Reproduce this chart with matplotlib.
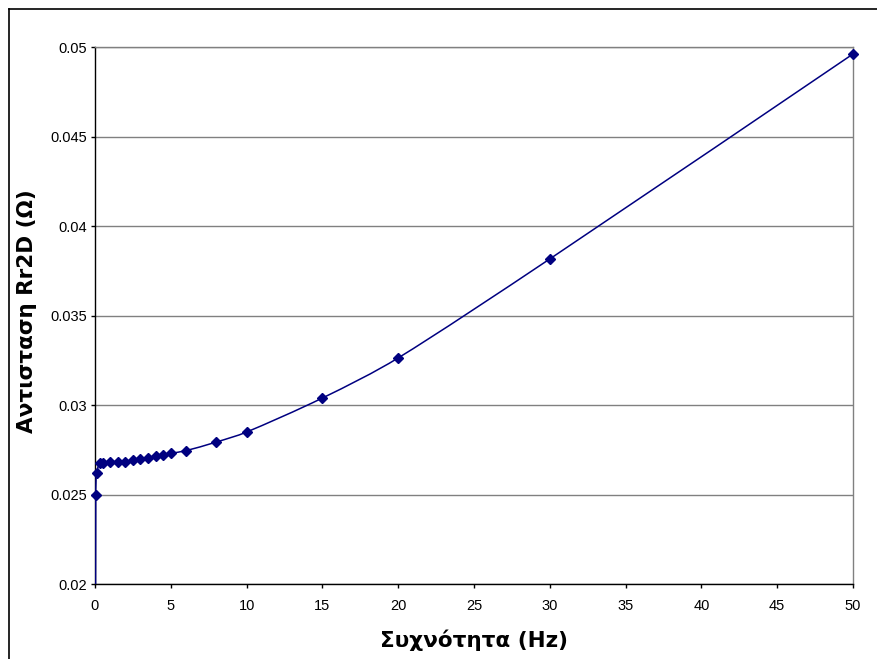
import matplotlib
matplotlib.use("Agg")
import matplotlib.pyplot as plt
from matplotlib.path import Path
from matplotlib.patches import PathPatch
from matplotlib.lines import Line2D
from matplotlib.ticker import FixedLocator
import numpy as np

# Data
freq_hz = [0, 0.05, 0.1, 0.3, 0.5, 1, 1.5, 2, 2.5, 3, 3.5, 4, 4.5, 5, 6, 8, 10, 15, 20, 30, 50]
rr2d_ohm = [0.0, 0.0250, 0.0262, 0.02674, 0.02676, 0.02683, 0.02683, 0.02684, 0.02691,
            0.02698, 0.02706, 0.02713, 0.02721, 0.0273, 0.02745, 0.02793, 0.02849,
            0.03039, 0.03263, 0.03816, 0.04961]
x_ticks = [0, 5, 10, 15, 20, 25, 30, 35, 40, 45, 50]
y_ticks = [0.02, 0.025, 0.03, 0.035, 0.04, 0.045, 0.05]
y_tick_labels = ["0.02", "0.025", "0.03", "0.035", "0.04", "0.045", "0.05"]
x_label = "Συχνότητα (Hz)"
y_label = "Αντισταση Rr2D (Ω)"

line_color = "#000080"

fig = plt.figure(figsize=(8.78, 6.59), dpi=100)
ax = fig.add_axes([95 / 878, 1 - 584 / 659, (853 - 95) / 878, (584 - 47) / 659])
ax.set_xlim(0, 50)
ax.set_ylim(0.02, 0.05)

# Smoothed line (Excel-like cubic Bezier through the data points),
# computed in display-scaled space so control handles can be limited.
fig.canvas.draw()
tr = ax.transData
pts = tr.transform(np.column_stack([freq_hz, rr2d_ohm]))
n = len(pts)


def limit(t, seg):
    L = np.hypot(*seg) / 3.0
    m = np.hypot(*t)
    return t * (L / m) if m > L and m > 0 else t


verts = [pts[0]]
codes = [Path.MOVETO]
for i in range(n - 1):
    p0 = pts[i - 1] if i > 0 else pts[i]
    p1 = pts[i]
    p2 = pts[i + 1]
    p3 = pts[i + 2] if i + 2 < n else pts[i + 1]
    t1 = limit((p2 - p0) / 6.0, p2 - p1)
    t2 = limit((p3 - p1) / 6.0, p2 - p1)
    verts += [p1 + t1, p2 - t2, p2]
    codes += [Path.CURVE4] * 3
verts_data = tr.inverted().transform(np.array(verts))
patch = PathPatch(Path(verts_data, codes), facecolor="none", edgecolor=line_color,
                  lw=1.1, zorder=3, transform=ax.transData)
ax.add_patch(patch)

y_marks = np.ma.masked_less(np.asarray(rr2d_ohm, dtype=float), 0.02)
ax.plot(freq_hz, y_marks, linestyle="none", marker="D", markersize=5.5,
        color=line_color, markeredgecolor=line_color, zorder=4, clip_on=False)

ax.set_xlim(0, 50)
ax.set_ylim(0.02, 0.05)
ax.xaxis.set_major_locator(FixedLocator(x_ticks))
ax.yaxis.set_major_locator(FixedLocator(y_ticks))
ax.set_yticklabels(y_tick_labels)
ax.set_xticklabels([str(t) for t in x_ticks])

ax.yaxis.grid(True, color="#808080", linewidth=1.0)
ax.set_axisbelow(True)
for s in ["left", "bottom"]:
    ax.spines[s].set_color("black")
    ax.spines[s].set_linewidth(1.0)
for s in ["top", "right"]:
    ax.spines[s].set_color("#808080")
    ax.spines[s].set_linewidth(1.0)

ax.tick_params(axis="both", direction="out", length=3, width=1, color="black")
ax.tick_params(axis="y", pad=3)
ax.tick_params(axis="x", pad=8)
for lbl in ax.get_xticklabels() + ax.get_yticklabels():
    lbl.set_fontfamily("Liberation Sans")
    lbl.set_fontsize(10.5)

fig.text(474 / 878, 1 - 640 / 659, x_label, ha="center", va="center",
         family="DejaVu Sans", weight="bold", fontsize=15.5)
fig.text(27 / 878, 1 - 311 / 659, y_label, ha="center", va="center", rotation=90,
         family="DejaVu Sans", weight="bold", fontsize=15.5)

# Outer chart border (top and left visible)
fig.add_artist(Line2D([8.5 / 878, 1.0], [1 - 8.5 / 659, 1 - 8.5 / 659],
                      transform=fig.transFigure, color="black", lw=1.2))
fig.add_artist(Line2D([8.5 / 878, 8.5 / 878], [0.0, 1 - 8.5 / 659],
                      transform=fig.transFigure, color="black", lw=1.2))

fig.savefig("out.png", dpi=100)
